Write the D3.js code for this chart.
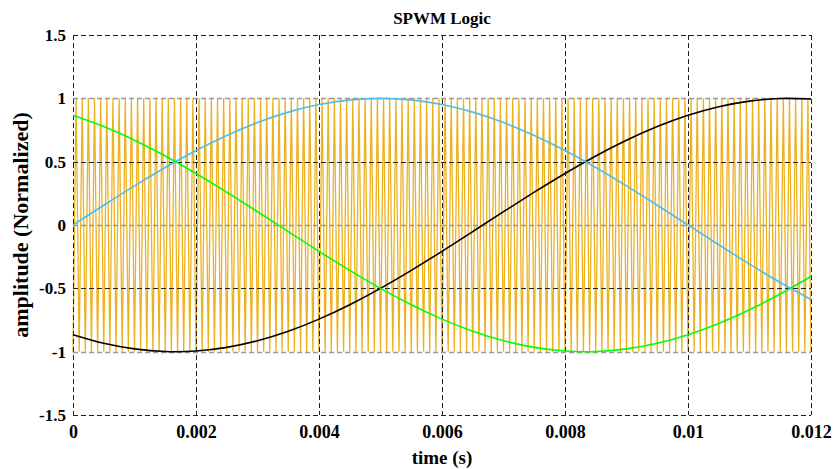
<!DOCTYPE html>
<html>
<head>
<meta charset="utf-8">
<script src="https://cdn.jsdelivr.net/npm/d3@7"></script>
<style>
  body { margin: 0; background: #fff; }
  text { font-family: "Liberation Serif", "Times New Roman", serif; font-weight: bold; }
</style>
</head>
<body>
<svg id="chart" width="834" height="469"></svg>
<script>
// time samples (s) for the three reference sines
var times = [0, 0.0005, 0.001, 0.0015, 0.002, 0.0025, 0.003, 0.0035, 0.004, 0.0045,
             0.005, 0.0055, 0.006, 0.0065, 0.007, 0.0075, 0.008, 0.0085, 0.009, 0.0095,
             0.01, 0.0105, 0.011, 0.0115, 0.012];

var phaseA = [0, 0.156, 0.309, 0.454, 0.588, 0.707, 0.809, 0.891, 0.951, 0.988,
              1, 0.988, 0.951, 0.891, 0.809, 0.707, 0.588, 0.454, 0.309, 0.156,
              0, -0.156, -0.309, -0.454, -0.588];
var phaseB = [-0.866, -0.934, -0.978, -0.999, -0.995, -0.966, -0.914, -0.839, -0.743, -0.629,
              -0.5, -0.358, -0.208, -0.052, 0.105, 0.259, 0.407, 0.545, 0.669, 0.777,
              0.866, 0.934, 0.978, 0.999, 0.995];
var phaseC = [0.866, 0.777, 0.669, 0.545, 0.407, 0.259, 0.105, -0.052, -0.208, -0.358,
              -0.5, -0.629, -0.743, -0.839, -0.914, -0.966, -0.995, -0.999, -0.978, -0.934,
              -0.866, -0.777, -0.669, -0.545, -0.407];

// triangle carrier: levels it swings between and number of half periods in the window
var carrierLevels = [-1, 1];
var carrierHalfPeriods = 240;

var xTicks = [0, 0.002, 0.004, 0.006, 0.008, 0.01, 0.012];
var yTicks = [-1.5, -1, -0.5, 0, 0.5, 1, 1.5];

var svg = d3.select("#chart");
var padL = 73, padR = 811, padT = 35, padB = 415;

var x = d3.scaleLinear().domain([0, 0.012]).range([padL, padR]);
var y = d3.scaleLinear().domain([-1.5, 1.5]).range([padB, padT]);

// carrier vertices placed on the x scale's own ticks
var carrierTimes = x.ticks(carrierHalfPeriods);
var carrier = carrierTimes.map(function (t, i) {
    return [t, carrierLevels[i % 2]];
});

svg.append("path")
    .datum(carrier)
    .attr("fill", "none")
    .attr("stroke", "#EDB120")
    .attr("stroke-width", 1.3)
    .attr("d", d3.line()
        .x(function (d) { return x(d[0]); })
        .y(function (d) { return y(d[1]); }));

// grid
svg.append("g").selectAll("line")
    .data(xTicks)
    .enter()
    .append("line")
    .attr("x1", function (d) { return Math.round(x(d)) + 0.5; })
    .attr("x2", function (d) { return Math.round(x(d)) + 0.5; })
    .attr("y1", padT)
    .attr("y2", padB)
    .attr("stroke", "#222")
    .attr("stroke-dasharray", "5,3");

svg.append("g").selectAll("line")
    .data(yTicks)
    .enter()
    .append("line")
    .attr("x1", padL)
    .attr("x2", padR)
    .attr("y1", function (d) { return Math.round(y(d)) + 0.5; })
    .attr("y2", function (d) { return Math.round(y(d)) + 0.5; })
    .attr("stroke", function (d) { return (d === 0 || Math.abs(d) === 1) ? "#999" : "#222"; })
    .attr("stroke-width", function (d) { return (d === 0 || Math.abs(d) === 1) ? 1.5 : 1; })
    .attr("stroke-dasharray", "5,3");

// reference sines
var series = [
    { values: phaseB, color: "#000000" },
    { values: phaseC, color: "#00FF00" },
    { values: phaseA, color: "#4DBEEE" }
];

var line = d3.line()
    .x(function (d, i) { return x(times[i]); })
    .y(function (d) { return y(d); })
    .curve(d3.curveNatural);

series.forEach(function (s) {
    svg.append("path")
        .datum(s.values)
        .attr("fill", "none")
        .attr("stroke", s.color)
        .attr("stroke-width", 1.6)
        .attr("d", line);
});

// axes
var xAxis = d3.axisBottom(x).tickValues(xTicks).tickSize(0).tickPadding(10)
    .tickFormat(function (d) { return d === 0 ? "0" : String(+d.toFixed(3)); });
var yAxis = d3.axisLeft(y).tickValues(yTicks).tickSize(0).tickPadding(7)
    .tickFormat(function (d) { return String(d); });

var gx = svg.append("g")
    .attr("transform", "translate(0," + padB + ")")
    .call(xAxis);
var gy = svg.append("g")
    .attr("transform", "translate(" + padL + ",0)")
    .call(yAxis);

[gx, gy].forEach(function (g, i) {
    g.select(".domain").remove();
    g.selectAll("text")
        .attr("font-size", i === 0 ? 18 : 17)
        .attr("font-family", "Liberation Serif")
        .attr("font-weight", "bold")
        .attr("fill", "#000");
});

svg.append("text")
    .attr("x", (padL + padR) / 2)
    .attr("y", 24)
    .attr("text-anchor", "middle")
    .attr("font-size", 17)
    .text("SPWM Logic");

svg.append("text")
    .attr("x", (padL + padR) / 2)
    .attr("y", 464)
    .attr("text-anchor", "middle")
    .attr("font-size", 19)
    .text("time (s)");

svg.append("text")
    .attr("transform", "translate(28," + ((padT + padB) / 2) + ") rotate(-90)")
    .attr("text-anchor", "middle")
    .attr("font-size", 22)
    .text("amplitude (Normalized)");
</script>
</body>
</html>
